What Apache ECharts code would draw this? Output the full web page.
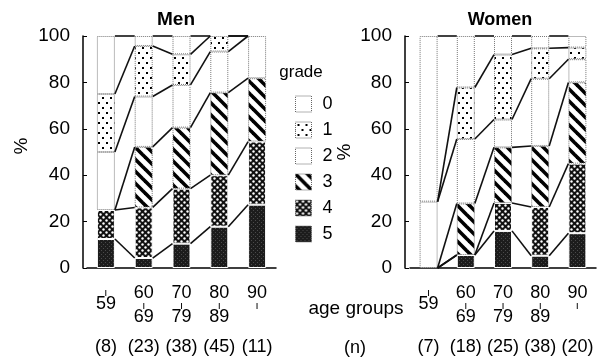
<!DOCTYPE html>
<html>
<head>
<meta charset="utf-8">
<script src="https://cdn.jsdelivr.net/npm/echarts@6/dist/echarts.min.js"></script>
<style>
  html, body { margin: 0; background: #fff; }
  #chart { width: 612px; height: 362px; }
</style>
</head>
<body>
<div id="chart"></div>
<script>
const ageGroups = ['-59', '60-69', '70-79', '80-89', '90-'];
const grades = ['0', '1', '2', '3', '4', '5'];
const menN = ['(8)', '(23)', '(38)', '(45)', '(11)'];
const womenN = ['(7)', '(18)', '(25)', '(38)', '(20)'];

// % of each age group per grade
const menG5 = [12.5, 4.3, 10.5, 17.8, 27.3];
const menG4 = [12.5, 21.8, 23.7, 22.2, 27.2];
const menG3 = [0, 26.1, 26.3, 35.6, 27.3];
const menG2 = [25, 21.7, 18.4, 17.7, 18.2];
const menG1 = [25, 21.8, 13.2, 6.7, 0];
const menG0 = [25, 4.3, 7.9, 0, 0];

const womenG5 = [0, 5.6, 16, 5.3, 15];
const womenG4 = [0, 0, 12, 21, 30];
const womenG3 = [0, 22.2, 24, 26.3, 35];
const womenG2 = [28.6, 27.8, 12, 29, 10];
const womenG1 = [0, 22.2, 28, 13.1, 5];
const womenG0 = [71.4, 22.2, 8, 5.3, 5];

const FONT = 'Liberation Sans';
const BAR_W = 18;

function pattern(w, h, draw) {
  const c = document.createElement('canvas');
  c.width = w; c.height = h;
  const ctx = c.getContext('2d');
  draw(ctx);
  return { image: c, repeat: 'repeat' };
}

const dots = pattern(8, 10, ctx => {
  ctx.fillStyle = '#fff'; ctx.fillRect(0, 0, 8, 10);
  ctx.fillStyle = '#000';
  ctx.fillRect(2, 2, 2, 2); ctx.fillRect(6, 7, 2, 2);
});
const stripes = pattern(12, 12, ctx => {
  ctx.fillStyle = '#fff'; ctx.fillRect(0, 0, 12, 12);
  ctx.strokeStyle = '#000'; ctx.lineWidth = 3.6;
  [-12, 0, 12].forEach(x0 => {
    ctx.beginPath(); ctx.moveTo(x0 - 2, -2); ctx.lineTo(x0 + 14, 14); ctx.stroke();
  });
});
const net = pattern(6, 6, ctx => {
  ctx.fillStyle = '#111'; ctx.fillRect(0, 0, 6, 6);
  ctx.fillStyle = '#fff';
  ctx.beginPath(); ctx.arc(1.5, 1.5, 1.2, 0, 7); ctx.fill();
  ctx.beginPath(); ctx.arc(4.5, 4.5, 1.2, 0, 7); ctx.fill();
});
const dark = pattern(4, 4, ctx => {
  ctx.fillStyle = '#1c1c1c'; ctx.fillRect(0, 0, 4, 4);
  ctx.fillStyle = '#4a4a4a';
  ctx.fillRect(1, 2, 1, 1); ctx.fillRect(3, 0, 1, 1);
});

const dottedBorder = { borderColor: '#777', borderWidth: 1, borderType: 'dotted' };
const gradeStyle = {
  '0': Object.assign({ color: '#fff' }, dottedBorder),
  '1': Object.assign({ color: dots }, dottedBorder),
  '2': Object.assign({ color: '#fff' }, dottedBorder),
  '3': Object.assign({ color: stripes }, dottedBorder),
  '4': { color: net, borderColor: '#fff', borderWidth: 1 },
  '5': { color: dark, borderColor: '#fff', borderWidth: 1 }
};

function barSeries(g, cols) {
  // cols bottom -> top: grade 5 ... grade 0
  return cols.map((arr, k) => {
    const name = grades[5 - k];
    return {
      name, type: 'bar', stack: 's' + g, xAxisIndex: g * 2, yAxisIndex: g,
      barWidth: BAR_W, silent: true,
      data: arr.map(v => (v === 0 ? '-' : v)),
      itemStyle: gradeStyle[name]
    };
  });
}

function linkSeries(g, cols) {
  const cum = ageGroups.map((_, i) => {
    let s = 0;
    return cols.map(a => (s += a[i]));
  });
  const data = ageGroups.slice(0, -1).map((_, i) => [i].concat(cum[i], cum[i + 1]));
  return {
    type: 'custom', xAxisIndex: g * 2, yAxisIndex: g, silent: true, z: 5,
    encode: { x: 0, y: 1 },
    data,
    renderItem(params, api) {
      const i = api.value(0);
      const half = BAR_W / 2;
      const children = [];
      for (let k = 0; k < 6; k++) {
        const a = api.coord([i, api.value(1 + k)]);
        const b = api.coord([i + 1, api.value(7 + k)]);
        children.push({
          type: 'line',
          shape: { x1: a[0] + half, y1: a[1], x2: b[0] - half, y2: b[1] },
          style: { stroke: '#111', lineWidth: 1.6 }
        });
      }
      return { type: 'group', children };
    }
  };
}

function ageLabel(v) {
  const p = v.split('-');
  const out = [];
  if (p[0]) out.push('{n|' + p[0] + '}');
  out.push('{d|ı}');
  if (p[1]) out.push('{n|' + p[1] + '}');
  return out.join('\n');
}

function xAxes(g, nLabels) {
  return [
    {
      gridIndex: g, type: 'category', data: ageGroups,
      axisLine: { lineStyle: { color: '#000', width: 1.5 } },
      axisTick: { alignWithLabel: true, length: 4, lineStyle: { color: '#000' } },
      axisLabel: {
        interval: 0, margin: 19, color: '#000', formatter: ageLabel,
        rich: {
          n: { fontSize: 18, fontFamily: FONT, lineHeight: 13, color: '#000' },
          d: { fontSize: 11, fontFamily: FONT, lineHeight: 11, color: '#000' }
        }
      }
    },
    {
      gridIndex: g, type: 'category', data: nLabels, position: 'bottom',
      axisLine: { show: false }, axisTick: { show: false },
      axisLabel: { interval: 0, margin: 70, fontSize: 18, fontFamily: FONT, color: '#000' }
    }
  ];
}

function yAxis(g, off) {
  return {
    gridIndex: g, type: 'value', min: 0, max: 100, interval: 20, offset: off,
    axisLine: { show: true, lineStyle: { color: '#000', width: 1.5 } },
    axisTick: { show: true, inside: true, length: 4, lineStyle: { color: '#000' } },
    axisLabel: { margin: 13, fontSize: 19, fontFamily: FONT, color: '#000' },
    splitLine: { show: false }
  };
}

const menCols = [menG5, menG4, menG3, menG2, menG1, menG0];
const womenCols = [womenG5, womenG4, womenG3, womenG2, womenG1, womenG0];

function txt(x, y, text, size, extra) {
  return {
    type: 'text', x, y,
    style: Object.assign({ text, fontSize: size, fontFamily: FONT, fill: '#000', align: 'center', verticalAlign: 'middle' }, extra)
  };
}

const chart = echarts.init(document.getElementById('chart'));
chart.setOption({
  animation: false,
  grid: [
    { left: 87, top: 36, width: 189, height: 232 },
    { left: 410, top: 36, width: 186, height: 232 }
  ],
  xAxis: xAxes(0, menN).concat(xAxes(1, womenN)),
  yAxis: [yAxis(0, 4), yAxis(1, 5)],
  legend: {
    data: grades, orient: 'vertical', left: 290, top: 90,
    itemWidth: 16, itemHeight: 16, itemGap: 8, icon: 'rect', selectedMode: false,
    itemStyle: { borderColor: '#666', borderWidth: 1, borderType: 'dotted' },
    textStyle: { fontSize: 18, fontFamily: FONT, color: '#000', padding: [0, 0, 0, 6] }
  },
  graphic: [
    txt(176, 20, 'Men', 19, { fontWeight: 'bold' }),
    txt(500, 20, 'Women', 18, { fontWeight: 'bold' }),
    txt(301, 72, 'grade', 17),
    txt(356, 309, 'age groups', 19),
    txt(355, 348, '(n)', 18),
    Object.assign(txt(22, 146, '%', 19), { rotation: Math.PI / 2 }),
    Object.assign(txt(345, 152, '%', 19), { rotation: Math.PI / 2 })
  ],
  series: barSeries(0, menCols).concat(barSeries(1, womenCols),
    [linkSeries(0, menCols), linkSeries(1, womenCols)])
});
</script>
</body>
</html>
